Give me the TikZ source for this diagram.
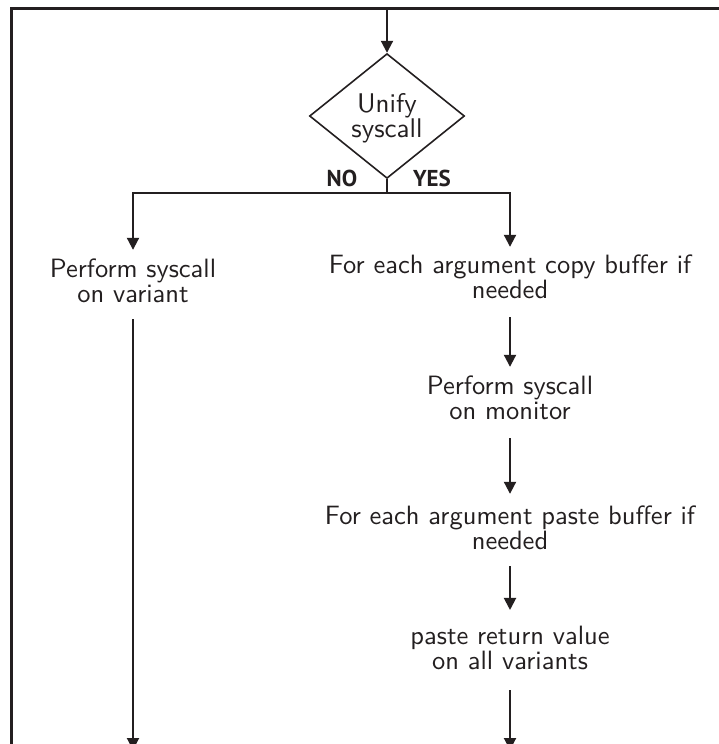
\documentclass[tikz,border=0pt]{standalone}
\usepackage{fontspec}
\newfontfamily\labelfont{PT Sans}
\newfontfamily\stepfont{lmsans10-regular.otf}
\usetikzlibrary{arrows.meta,shapes.geometric}
\definecolor{ink}{HTML}{231F20}

\begin{document}
\begin{tikzpicture}[x=1pt,y=-1pt,
  flow/.style={line width=2pt, draw=ink},
  arr/.style={flow, -{Triangle[length=12pt,width=12pt]}},
  stepbox/.style={text=ink, font=\stepfont\fontsize{26.5}{25}\selectfont,
    align=center, inner sep=0pt},
  decision/.style={diamond, draw=ink, line width=1.6pt, inner sep=0pt,
    minimum width=155pt, minimum height=88pt, text=ink,
    font=\stepfont\fontsize{27}{23}\selectfont, align=center},
  branch/.style={text=ink, font=\labelfont\bfseries\fontsize{23}{23}\selectfont,
    inner sep=0pt}]

\useasboundingbox (0,0) rectangle (719,744);

% open frame: top and left edges only
\draw[ink, line width=2.5pt] (11.5,760) |- (730,8.5);

% nodes
\coordinate (in) at (387,8.5);
\node[decision] (unify) at (387,116) {\rule{0pt}{23pt}Unify\\syscall};
\coordinate (split) at (387,193);
\node[branch] (no) at (342,178) {NO};
\node[branch] (yes) at (432,178) {YES};
\node[stepbox] (variant) at (133,281) {Perform syscall\\on variant};
\node[stepbox] (copy) at (510,277) {For each argument copy buffer if\\needed};
\node[stepbox] (monitor) at (510,398) {Perform syscall\\on monitor};
\node[stepbox] (paste) at (510,528) {For each argument paste buffer if\\needed};
\node[stepbox] (ret) at (510,648) {paste return value\\on all variants};
\coordinate (outL) at (133,750);
\coordinate (outR) at (510,750);

% connectors
\draw[arr] (in) -- (unify.north);
\draw[flow] (unify.south) -- (split);
\draw[arr] (split) -| ([yshift=9pt]variant.north);
\draw[arr] (split) -| ([yshift=8pt]copy.north);
\draw[arr] ([yshift=-18pt]copy.south) -- ([yshift=9pt]monitor.north);
\draw[arr] ([yshift=-18pt]monitor.south) -- ([yshift=12pt]paste.north);
\draw[arr] ([yshift=-16pt]paste.south) -- ([yshift=16pt]ret.north);
\draw[arr] ([yshift=-20pt]ret.south) -- (outR);
\draw[arr] ([yshift=-16pt]variant.south) -- (outL);
\end{tikzpicture}
\end{document}
